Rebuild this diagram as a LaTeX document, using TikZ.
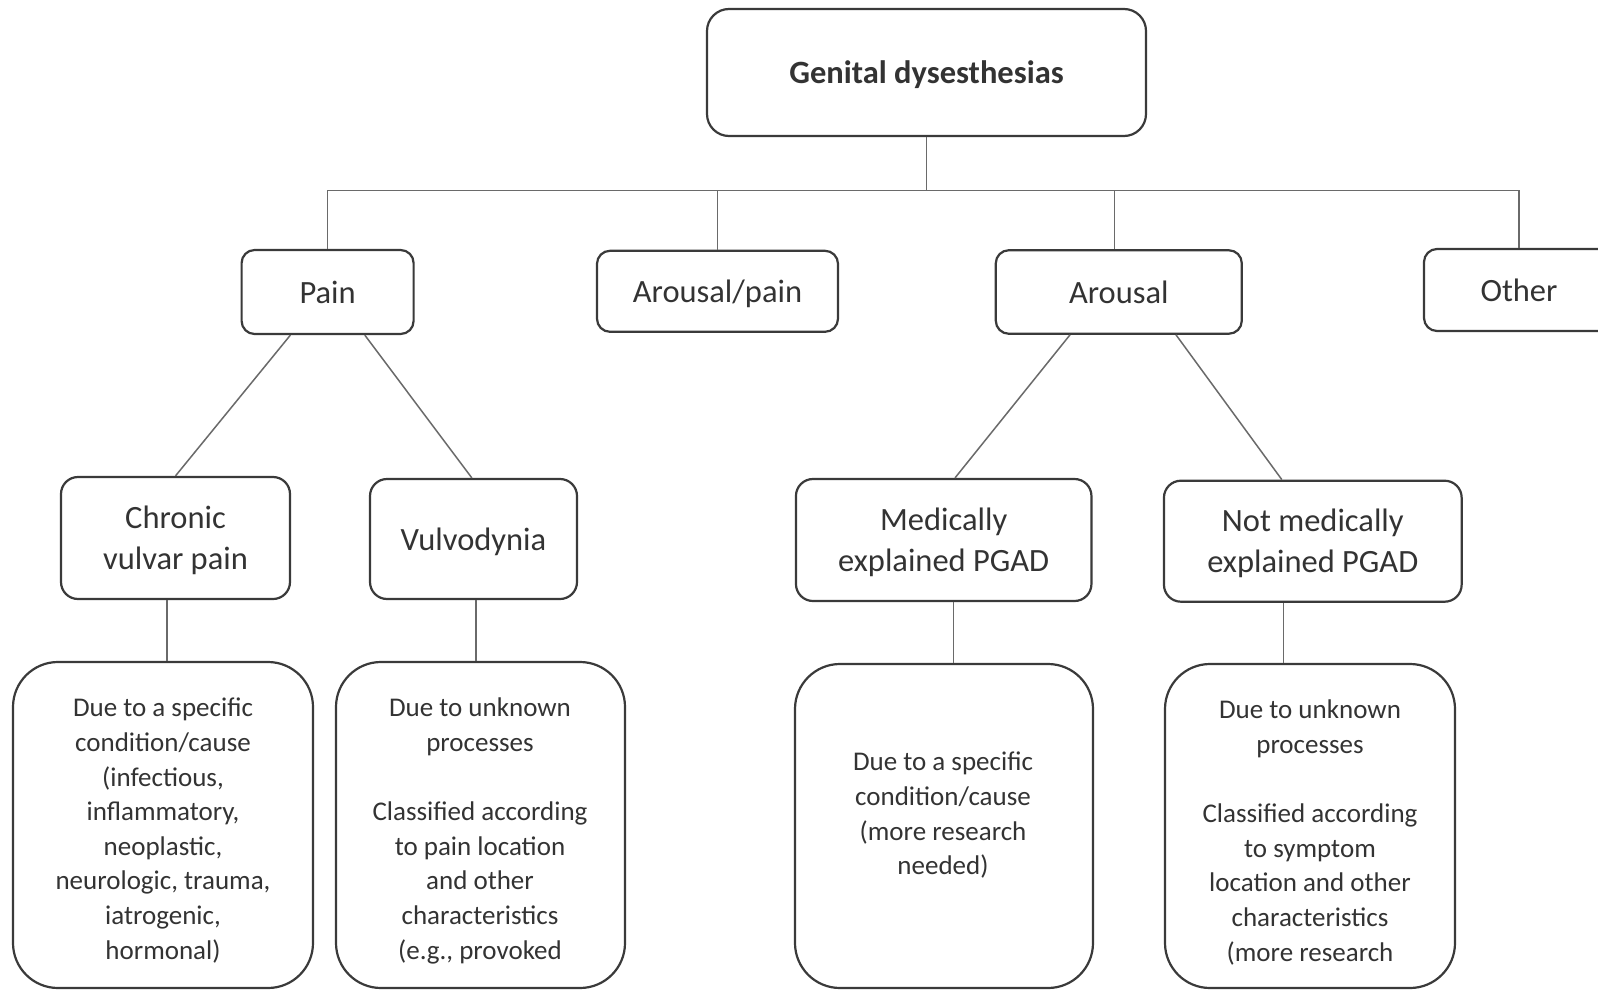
\documentclass[tikz,border=0pt]{standalone}
\usepackage{fontspec}
\setmainfont{Carlito}
\definecolor{boxline}{HTML}{3A3A3A}
\definecolor{linkc}{HTML}{6A6A6A}
\definecolor{txt}{HTML}{333333}
\newcommand{\titlesize}{\fontsize{32.5}{40}\selectfont\bfseries}
\newcommand{\midsize}{\fontsize{32.5}{41}\selectfont}
\newcommand{\smallsize}{\fontsize{27}{34.6}\selectfont}
\begin{document}
\begin{tikzpicture}[x=1pt,y=-1pt,
  box/.style={draw=boxline, line width=2.2pt, rounded corners=#1, fill=white,
    inner sep=0pt, align=center, text=txt, text depth=0pt},
  box/.default=14pt,
  link/.style={draw=linkc, line width=1.5pt},
  note/.style={anchor=north, inner sep=0pt, align=center, text=txt, font=\smallsize}]
  % page
  \fill[white] (0,0) rectangle (1598,990);
  \useasboundingbox (0,0) rectangle (1598,990);

  % root
  \node[box=22pt, minimum width=439pt, minimum height=127pt, font=\titlesize]
    (gd) at (926.5,72.5) {Genital dysesthesias};

  % second level
  \node[box=13pt, minimum width=172pt, minimum height=84pt, font=\midsize]
    (pain) at (327.6,292) {Pain};
  \node[box=13pt, minimum width=241pt, minimum height=81pt, font=\midsize]
    (ap) at (717.5,291.3) {Arousal/pain};
  \node[box=13pt, minimum width=246pt, minimum height=83.5pt, font=\midsize]
    (ar) at (1118.8,292) {Arousal};
  \node[box=13pt, minimum width=190pt, minimum height=82pt, font=\midsize]
    (oth) at (1519,290) {Other};

  % third level
  \node[box=17pt, minimum width=229pt, minimum height=122pt, font=\midsize]
    (cvp) at (175.5,538) {Chronic\\vulvar pain};
  \node[box=17pt, minimum width=207pt, minimum height=120pt, font=\midsize]
    (vul) at (473.5,539) {Vulvodynia};
  \node[box=17pt, minimum width=295.5pt, minimum height=122pt, font=\midsize]
    (med) at (943.7,540) {Medically\\explained PGAD};
  \node[box=17pt, minimum width=297.7pt, minimum height=121pt, font=\midsize]
    (nmed) at (1312.8,541.2) {Not medically\\explained PGAD};

  % fourth level frames
  \node[box=45pt, minimum width=300pt, minimum height=326pt] (ca) at (163,825) {};
  \node[box=45pt, minimum width=289pt, minimum height=326pt] (cb) at (480.5,825) {};
  \node[box=45pt, minimum width=298pt, minimum height=324pt] (cc) at (944,826) {};
  \node[box=45pt, minimum width=290pt, minimum height=324pt] (cd) at (1310,826) {};

  % fourth level texts
  \node[note] (ta) at (163,698) {Due to a specific\\condition/cause\\(infectious,\\inflammatory,\\neoplastic,\\neurologic, trauma,\\iatrogenic,\\hormonal)};
  \node[note] (tb) at (480,698) {Due to unknown\\processes\\[34.6pt]Classified according\\to pain location\\and other\\characteristics\\(e.g., provoked};
  \node[note] (tc) at (943,752) {Due to a specific\\condition/cause\\(more research\\needed)};
  \node[note] (td) at (1310,700) {Due to unknown\\processes\\[34.6pt]Classified according\\to symptom\\location and other\\characteristics\\(more research};

  % tree connectors
  \coordinate (bus) at (926.5,190.6);
  \draw[link] (gd.south) -- (bus);
  \draw[link] (pain.north) |- (bus) -| (oth.north);
  \draw[link] (ap.north) -- (ap.north |- bus);
  \draw[link] ([xshift=-4.5pt]ar.north) -- ([xshift=-4.5pt]ar.north |- bus);

  \draw[link] ([xshift=-37.2pt]pain.south) -- (cvp.north);
  \draw[link] ([xshift=37.2pt]pain.south) -- ([xshift=-1.7pt]vul.north);
  \draw[link] ([xshift=-48.8pt]ar.south) -- ([xshift=11.3pt]med.north);
  \draw[link] ([xshift=57.2pt]ar.south) -- ([xshift=-31pt]nmed.north);

  \draw[link] ([xshift=-8.5pt]cvp.south) -- ([xshift=-8.5pt]cvp.south |- ca.north);
  \draw[link] ([xshift=2.5pt]vul.south) -- ([xshift=2.5pt]vul.south |- cb.north);
  \draw[link] ([xshift=10pt]med.south) -- ([xshift=10pt]med.south |- cc.north);
  \draw[link] ([xshift=-29.5pt]nmed.south) -- ([xshift=-29.5pt]nmed.south |- cd.north);
\end{tikzpicture}
\end{document}
